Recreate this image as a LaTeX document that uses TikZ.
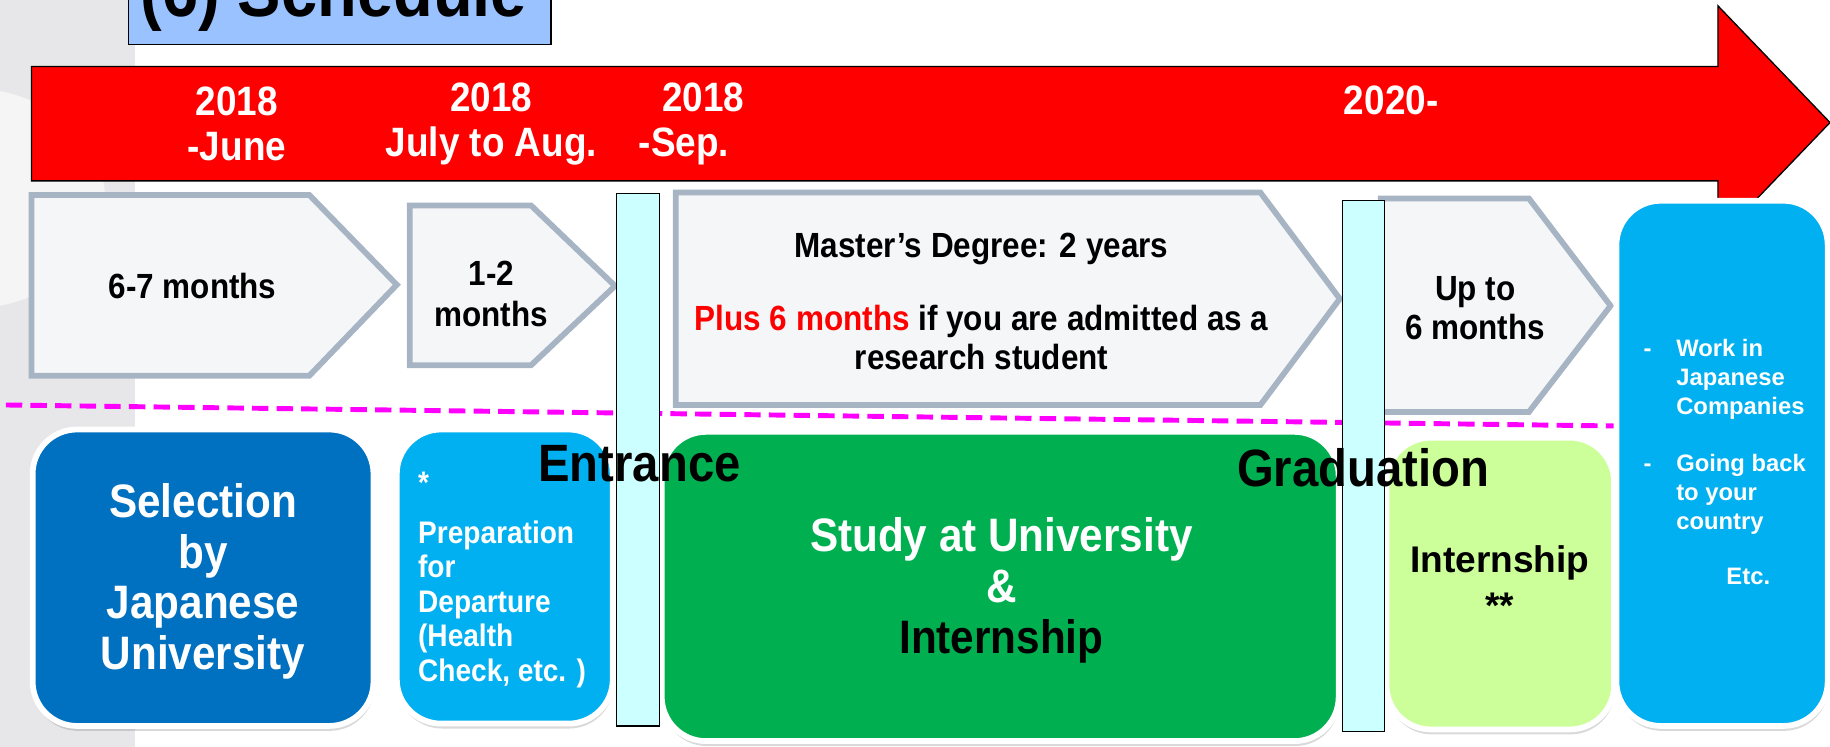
\documentclass[tikz,border=0pt]{standalone}
\usepackage{fontspec}
\setmainfont{Liberation Sans}[FakeStretch=0.9]
\newfontfamily\plainsans{Liberation Sans}
\usetikzlibrary{shadows}

\definecolor{titleblue}{RGB}{153,194,255}
\definecolor{stepfill}{RGB}{245,246,248}
\definecolor{stepedge}{RGB}{166,180,196}
\definecolor{gatecyan}{RGB}{204,255,255}
\definecolor{darkblue}{RGB}{0,112,192}
\definecolor{skyblue}{RGB}{0,176,240}
\definecolor{studygreen}{RGB}{0,176,80}
\definecolor{limegreen}{RGB}{204,255,153}
\definecolor{stripgray}{RGB}{231,231,233}
\definecolor{linemagenta}{RGB}{255,0,255}

\begin{document}
\begin{tikzpicture}[x=0.025cm,y=-0.025cm,
  chevron/.style={fill=stepfill,draw=stepedge,line width=3.5pt},
  gate/.style={fill=gatecyan,draw=black,line width=0.8pt},
  card/.style={draw=white,line width=3.5pt,rounded corners=0.95cm,
    drop shadow={opacity=0.3,shadow xshift=0.5pt,shadow yshift=-3pt}},
  yearlabel/.style={text=white,align=center,inner sep=0pt,font=\bfseries\fontsize{25}{27.5}\selectfont},
  steptext/.style={align=center,inner sep=0pt,font=\bfseries\fontsize{21.3}{25}\selectfont},
  cardtext/.style={text=white,align=center,inner sep=0pt,font=\bfseries\fontsize{28.6}{30.9}\selectfont},
  preptext/.style={text=white,align=left,inner sep=0pt,font=\bfseries\fontsize{19}{21}\selectfont},
  limetext/.style={align=center,inner sep=0pt,font=\plainsans\bfseries\fontsize{22.6}{28}\selectfont},
  aftertext/.style={text=white,align=left,inner sep=0pt,font=\plainsans\bfseries\fontsize{14.5}{17.7}\selectfont},
  marktext/.style={inner sep=0pt,font=\bfseries\fontsize{32}{34}\selectfont}]

\useasboundingbox (0,0) rectangle (1568,640);

% grey band on the left
\fill[stripgray] (0,0) rectangle (116,640);
\begin{scope}
\clip (0,0) rectangle (116,640);
\fill[white,opacity=0.6] (-30,170) ellipse [x radius=120, y radius=95];
\end{scope}

% title
\draw[fill=titleblue,line width=0.8pt] (110,-10) rectangle (472,38);
\node (title) [anchor=base,inner sep=0pt,font=\bfseries\fontsize{44}{46}\selectfont] at (286,14) {(6) Schedule};

% time arrow
\draw[fill=red,line width=0.8pt] (27,57) -- (1472,57) -- (1472,5) -- (1568,105) -- (1472,205) -- (1472,155) -- (27,155) -- cycle;
\node (yJune) [yearlabel] at (203,106) {2018\\-June};
\node (yJuly) [yearlabel] at (421,106) {2018\\July to Aug.};
\node (ySep) [yearlabel,align=left,anchor=west] at (547,106) {\hspace*{0.5cm}2018\\-Sep.};
\node (y2020) [yearlabel] at (1192,86) {2020-};

% periods
\draw[chevron] (27,167) -- (265,167) -- (340,244) -- (265,322) -- (27,322) -- cycle;
\node (sixSeven) [steptext] at (165,245) {6-7 months};

\draw[chevron] (351,176) -- (455,176) -- (527,245) -- (455,313) -- (351,313) -- cycle;
\node (oneTwo) [steptext] at (421,252) {1-2\\months};

\draw[chevron] (579,165) -- (1080,165) -- (1148,256) -- (1080,347) -- (579,347) -- cycle;
\node (master) [steptext,font=\bfseries\fontsize{21.3}{23.4}\selectfont] at (841,258)
  {Master’s Degree: 2 years\\[0.75cm]\textcolor{red}{Plus 6 months} if you are admitted as a\\research student};

\draw[chevron] (1183,170) -- (1310,170) -- (1380,262) -- (1310,353) -- (1183,353) -- cycle;
\node (upTo) [steptext,font=\bfseries\fontsize{21.3}{23.4}\selectfont] at (1264,264) {Up to\\6 months};

\draw[linemagenta,line width=3pt,dash pattern=on 10pt off 5pt] (5,347) -- (1385,365);

% stages
\draw[card,fill=darkblue] (28,368) rectangle (320,622);
\draw[card,fill=skyblue] (340,368) rectangle (525,620);
\draw[card,fill=studygreen] (567,370) rectangle (1147,635);
\draw[card,fill=limegreen] (1188,375) rectangle (1383,625);
\draw[card,fill=skyblue] (1385,172) rectangle (1566,622);

\draw[gate] (528,166) rectangle (565,622);
\draw[gate] (1150,172) rectangle (1186,627);

\node (select) [cardtext] at (174,498) {Selection\\by\\Japanese\\University};
\node (prep) [preptext,anchor=west] at (358,497) {*\\[0.32cm]Preparation\\for\\Departure\\(Health\\Check, etc. )};
\node (study) [cardtext] at (858,506) {Study at University\\\&\\\textcolor{black}{Internship}};
\node (intern) [limetext] at (1285,499) {Internship\\**};
\node (after) [aftertext,anchor=west] at (1408,374)
  {\makebox[0.7cm][l]{-}Work in\\\hspace*{0.7cm}Japanese\\\hspace*{0.7cm}Companies\\[0.6cm]\makebox[0.7cm][l]{-}Going back\\\hspace*{0.7cm}to your\\\hspace*{0.7cm}country};
\node (etc) [aftertext] at (1498,494) {Etc.};

\node (entr) [marktext] at (548,397) {Entrance};
\node (grad) [marktext] at (1168,401) {Graduation};

\end{tikzpicture}
\end{document}
